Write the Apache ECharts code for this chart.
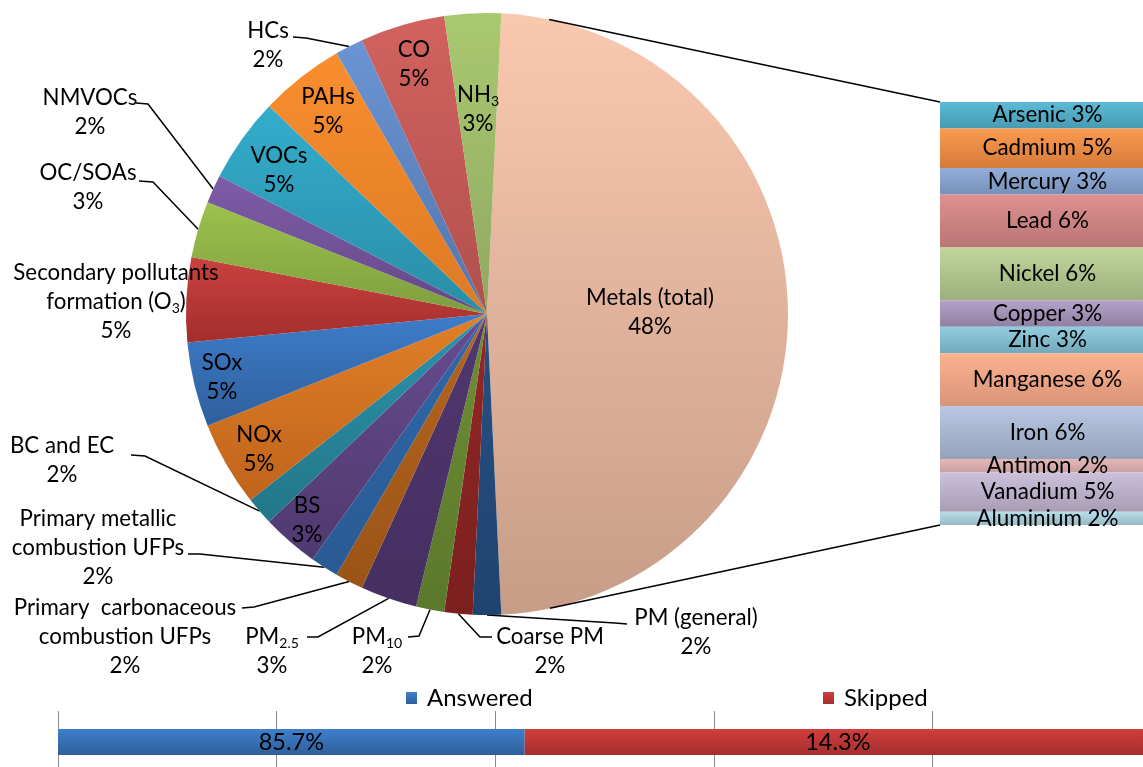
<!DOCTYPE html>
<html><head><meta charset="utf-8">
<script src="https://cdn.jsdelivr.net/npm/echarts@6/dist/echarts.min.js"></script>
<style>html,body{margin:0;padding:0;background:#fff}#c{width:1143px;height:767px}</style>
</head><body><div id="c"></div>
<script>
// ---------- DATA ----------
const pieCategories = ['Metals (total)','PM (general)','Coarse PM','PM10','PM2.5',
  'Primary  carbonaceous\ncombustion UFPs','Primary metallic\ncombustion UFPs','BS','BC and EC',
  'NOx','SOx','Secondary pollutants\nformation (O3)','OC/SOAs','NMVOCs','VOCs','PAHs','HCs','CO','NH3'];
const pieValues = [32,1,1,1,2,1,1,2,1,3,3,3,2,1,3,3,1,3,2];
const metalCategories = ['Arsenic','Cadmium','Mercury','Lead','Nickel','Copper','Zinc','Manganese','Iron','Antimon','Vanadium','Aluminium'];
const metalValues = [2,3,2,4,4,2,2,4,4,1,3,1];
const responseCategories = ['Answered','Skipped'];
const responseBarLengths = [42.7, 57.3];
const responseLabels = ['85.7%','14.3%'];

// ---------- STYLES ----------
const FONT = 'Lato, "Open Sans", sans-serif';
const pieColors = [
  ['#FAC8AF','#C79D88'],['#265083','#1F4470'],['#952727','#7B1F1F'],['#6E8F35','#5B782B'],
  ['#513770','#452F60'],['#B7651E','#9A5417'],['#3068AA','#2A5A92'],['#684C90','#4F396F'],
  ['#2B93AD','#237688'],['#E27F27','#BF641B'],['#3E7DCA','#2F5F9C'],['#C9423F','#A32E2C'],
  ['#9CC24E','#7E9E3E'],['#7E5CA8','#654887'],['#33ADCC','#2A8DA6'],['#F98E2F','#DD7A23'],
  ['#6A94D4','#5376AB'],['#D2625F','#B0504D'],['#A9C96F','#8FA862']
];
const metalColors = [
  ['#5DBAD6','#469BB2'],['#FA9B50','#D67A3A'],['#93AEDA','#7690B8'],['#DE9190','#B97575'],
  ['#C2D69B','#9CAF7C'],['#B3A3C9','#8F80A3'],['#92CDDF','#72A9BA'],['#FCB28F','#D89478'],
  ['#B8C8E4','#94A3BA'],['#E6B8B7','#C9A0A0'],['#CCC1DB','#A89DB5'],['#B8DEE9','#97BAC4']
];
const responseColors = [['#3F7FCD','#2F5F9A'],['#D03F3D','#A42E2C']];
function grad(c){return {type:'linear',x:0,y:0,x2:0,y2:1,colorStops:[{offset:0,color:c[0]},{offset:1,color:c[1]}]};}

// label placement (layout only)
const labelSpots = {
  'Metals (total)': {c:[650,312]},
  'CO': {c:[414,64]},
  'NH3': {c:[478,109]},
  'PAHs': {c:[328,111]},
  'VOCs': {c:[279,170]},
  'SOx': {c:[222,377]},
  'NOx': {c:[259,449]},
  'BS': {c:[307,520]},
  'Secondary pollutants\nformation (O3)': {c:[116,302]},
  'HCs': {c:[268,45], line:[[306,38],[293,37]]},
  'NMVOCs': {c:[90,112], line:[[148,104],[136,103]]},
  'OC/SOAs': {c:[88,187], line:[[153,182],[139,181]]},
  'BC and EC': {c:[62,460], line:[[145,456],[131,455]]},
  'Primary metallic\ncombustion UFPs': {c:[98,548], line:[[200,554],[188,554]]},
  'Primary  carbonaceous\ncombustion UFPs': {c:[125,637], line:[[254,607],[242,608]]},
  'PM2.5': {c:[272,651], line:[[318,637],[307,637]]},
  'PM10': {c:[377,651], line:[[419,636],[408,637]]},
  'Coarse PM': {c:[550,651], line:[[480,637],[492,637]]},
  'PM (general)': {c:[696,632], line:[[615,623],[627,624]]}
};

const total = pieValues.reduce((a,b)=>a+b,0);
const metalTotal = metalValues.reduce((a,b)=>a+b,0);
const pct = v => Math.round(v/total*100);
function richName(s){
  return s.replace('NH3','NH{sub|3}').replace('PM2.5','PM{sub|2.5}').replace('PM10','PM{sub|10}').replace('(O3)','(O{sub|3})');
}

const pieData = pieCategories.map((n,i)=>({
  name:n, value:pieValues[i],
  itemStyle:{color:grad(pieColors[i])},
  labelLine:{show: !!labelSpots[n].line}
}));

const metalSeries = metalCategories.map((n,i)=>({
  type:'bar', name:n, stack:'metals', xAxisIndex:0, yAxisIndex:0,
  barWidth:'100%',
  data:[metalValues[i]],
  itemStyle:{color:grad(metalColors[i])},
  label:{show:true, position:'inside', formatter: ()=> n+' '+pct(metalValues[i])+'%',
    color:'#000', fontSize:22.4, fontFamily:FONT},
  silent:true
}));

const respSeries = responseCategories.map((n,i)=>({
  type:'bar', name:n, stack:'resp', xAxisIndex:1, yAxisIndex:1,
  barWidth:26,
  data:[responseBarLengths[i]],
  itemStyle:{color:grad(responseColors[i])},
  label:{show:true, position:'inside', formatter: ()=>responseLabels[i],
    color:'#000', fontSize:23.5, fontFamily:FONT},
  silent:true
}));

const option = {
  animation:false,
  backgroundColor:'#fff',
  grid:[
    {left:940, top:102, width:215, height:423, outerBoundsMode:'none', containLabel:false},
    {left:58, top:711, width:1093, height:62, outerBoundsMode:'none', containLabel:false}
  ],
  xAxis:[
    {type:'category', gridIndex:0, data:['Metals'], show:false},
    {type:'value', gridIndex:1, min:0, max:100, interval:20,
      axisLabel:{show:false}, axisLine:{show:false}, axisTick:{show:false},
      splitLine:{show:true, lineStyle:{color:'#8a8a8a', width:1}}}
  ],
  yAxis:[
    {type:'value', gridIndex:0, min:0, max:metalTotal, inverse:true, show:false},
    {type:'category', gridIndex:1, data:['Responses'], show:false}
  ],
  legend:[
    {data:['Answered'], left:406, top:686, padding:0, itemWidth:11, itemHeight:12, icon:'rect',
      textStyle:{fontSize:24, fontFamily:FONT, color:'#000', padding:[0,0,0,5]}},
    {data:['Skipped'], left:823, top:686, padding:0, itemWidth:11, itemHeight:12, icon:'rect',
      textStyle:{fontSize:24, fontFamily:FONT, color:'#000', padding:[0,0,0,5]}}
  ],
  series:[
    {
      type:'pie', center:[487,314], radius:301,
      startAngle: pieValues[0]/total*180, clockwise:true,
      avoidLabelOverlap:false, silent:true,
      data:pieData,
      itemStyle:{borderWidth:0},
      label:{show:true, position:'outside', color:'#000', fontSize:22.3, fontFamily:FONT, lineHeight:29,
        formatter: p => richName(p.name)+'\n'+pct(p.value)+'%',
        rich:{sub:{fontSize:14, fontFamily:FONT, color:'#000', verticalAlign:'bottom', lineHeight:14, padding:[0,0,1,0]}}},
      labelLine:{show:true, lineStyle:{color:'#000', width:1.5}},
      labelLayout: function(p){
        const s = labelSpots[pieCategories[p.dataIndex]];
        const out = {x:s.c[0], y:s.c[1], align:'center', verticalAlign:'middle'};
        if (s.line && p.labelLinePoints) out.labelLinePoints = [p.labelLinePoints[0], s.line[0], s.line[1]];
        return out;
      }
    }
  ].concat(metalSeries, respSeries)
};

const chart = echarts.init(document.getElementById('c'), null, {renderer:'canvas'});
chart.setOption(option);

// connector lines from metal slice to the breakdown bar (tangents)
(function(){
  const lay = chart.getModel().getSeriesByIndex(0).getData().getItemLayout(0);
  const rect = chart.getModel().getComponent('grid',0).coordinateSystem.getRect();
  function tang(px,py,up){
    const dx=px-lay.cx, dy=py-lay.cy, d=Math.hypot(dx,dy), a=Math.atan2(dy,dx), b=Math.acos(lay.r/d);
    const t = up ? a-b : a+b;
    return [lay.cx+lay.r*Math.cos(t), lay.cy+lay.r*Math.sin(t)];
  }
  const pTop=[rect.x, rect.y], pBot=[rect.x, rect.y+rect.height];
  const tTop=tang(pTop[0],pTop[1],true), tBot=tang(pBot[0],pBot[1],false);
  chart.setOption({graphic:[
    {type:'line', z:100, shape:{x1:tTop[0],y1:tTop[1],x2:pTop[0],y2:pTop[1]}, style:{stroke:'#000', lineWidth:1.5}},
    {type:'line', z:100, shape:{x1:tBot[0],y1:tBot[1],x2:pBot[0],y2:pBot[1]}, style:{stroke:'#000', lineWidth:1.5}}
  ]});
})();
</script>
</body></html>
